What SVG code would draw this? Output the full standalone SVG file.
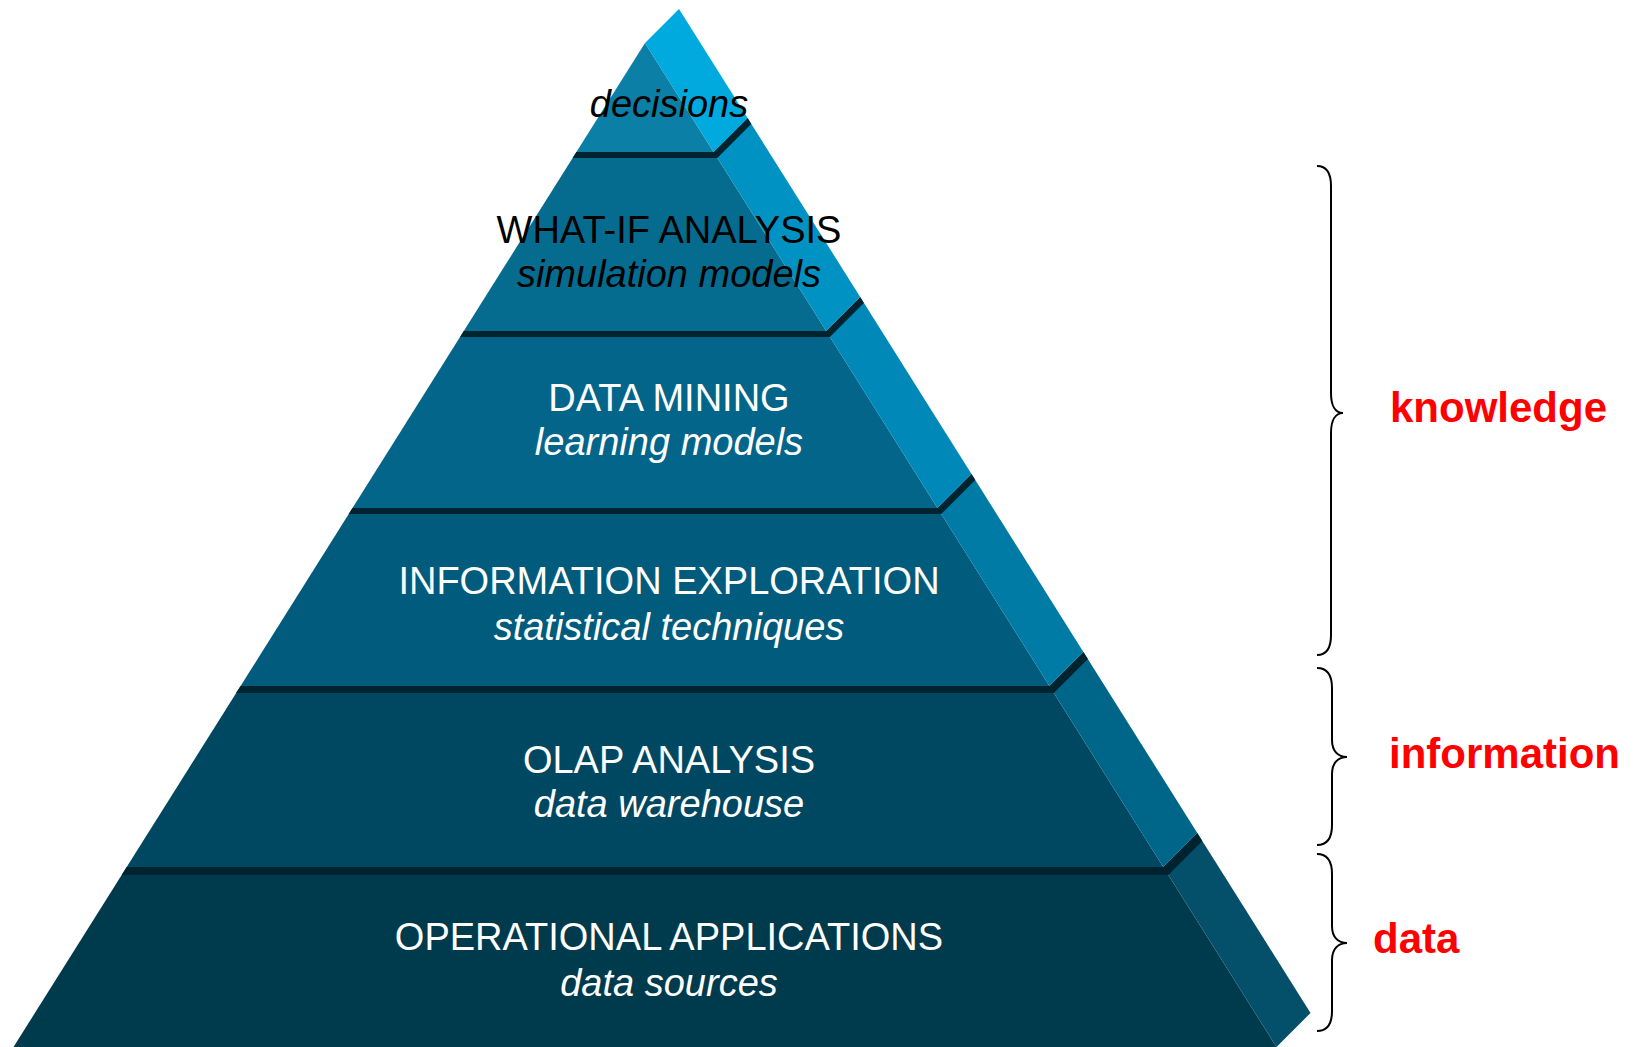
<svg xmlns="http://www.w3.org/2000/svg" width="1634" height="1047" viewBox="0 0 1634 1047">
<style>
.lbl{font-family:"Liberation Sans",Arial,sans-serif;font-size:38px;text-anchor:middle}
.it{font-style:italic}
.w{fill:#ffffff}
.k{fill:#000000}
.band{fill:#00242f}
.red{font-family:"Liberation Sans",Arial,sans-serif;font-size:42px;font-weight:bold;fill:#ff0000}
.brace{fill:none;stroke:#000;stroke-width:2}
</style>
<rect width="1634" height="1047" fill="#ffffff"/>
<g id="tier-operational">
<polygon points="126.7,867 1163.3,867 1276.5,1047 13.5,1047" fill="#003a4d"/>
<polygon points="1163.3,867 1197.3,833 1310.5,1013 1276.5,1047" fill="#044f69"/>
<polygon class="band" points="126.7,867 1163.3,867 1197.3,833 1202.3,841 1168.3,875 121.7,875"/>
<text class="lbl w" x="669" y="950">OPERATIONAL APPLICATIONS</text>
<text class="lbl w it" x="669" y="996">data sources</text>
</g>
<g id="tier-olap">
<polygon points="240.6,686 1049.4,686 1163.3,867 126.7,867" fill="#004862"/>
<polygon points="1049.4,686 1083.4,652 1197.3,833 1163.3,867" fill="#006689"/>
<polygon class="band" points="240.6,686 1049.4,686 1083.4,652 1087.9,659 1053.9,693 236.1,693"/>
<text class="lbl w" x="669" y="773">OLAP ANALYSIS</text>
<text class="lbl w it" x="669" y="817">data warehouse</text>
</g>
<g id="tier-exploration">
<polygon points="352.5,508 937.5,508 1049.4,686 240.6,686" fill="#015b7c"/>
<polygon points="937.5,508 971.5,474 1083.4,652 1049.4,686" fill="#007ba6"/>
<polygon class="band" points="352.5,508 937.5,508 971.5,474 975.3,480 941.3,514 348.7,514"/>
<text class="lbl w" x="669" y="594">INFORMATION EXPLORATION</text>
<text class="lbl w it" x="669" y="640">statistical techniques</text>
</g>
<g id="tier-mining">
<polygon points="463.8,331 826.2,331 937.5,508 352.5,508" fill="#04658a"/>
<polygon points="826.2,331 860.2,297 971.5,474 937.5,508" fill="#0088b9"/>
<polygon class="band" points="463.8,331 826.2,331 860.2,297 863.9,303 829.9,337 460.1,337"/>
<text class="lbl w" x="669" y="411">DATA MINING</text>
<text class="lbl w it" x="669" y="455">learning models</text>
</g>
<g id="tier-whatif">
<polygon points="576.4,152 713.6,152 826.2,331 463.8,331" fill="#056c8f"/>
<polygon points="713.6,152 747.6,118 860.2,297 826.2,331" fill="#0092c2"/>
<polygon class="band" points="576.4,152 713.6,152 747.6,118 751.3,124 717.3,158 572.7,158"/>
<text class="lbl k" x="669" y="243">WHAT-IF ANALYSIS</text>
<text class="lbl k it" x="669" y="287">simulation models</text>
</g>
<g id="tier-decisions">
<polygon points="645,43 713.6,152 576.4,152" fill="#0b7fa5"/>
<polygon points="645,43 679,9 747.6,118 713.6,152" fill="#00aadf"/>
<text class="lbl k it" x="669" y="117">decisions</text>
</g>
<g id="braces">
<path class="brace" d="M1317,166 C1326,166 1331,172 1331,186 L1331,393 C1331,405 1335,413 1343,413 C1335,413 1331,421 1331,433 L1331,635 C1331,649 1326,655 1317,655"/>
<path class="brace" d="M1317,668 C1326,668 1332,674 1332,688 L1332,740 C1332,751 1338,757 1347,757 C1338,757 1332,763 1332,774 L1332,825 C1332,839 1326,845 1317,845"/>
<path class="brace" d="M1317,854 C1326,854 1332,860 1332,874 L1332,926 C1332,937 1338,943 1347,943 C1338,943 1332,949 1332,960 L1332,1011 C1332,1025 1326,1031 1317,1031"/>
</g>
<g id="labels">
<text class="red" x="1390" y="422">knowledge</text>
<text class="red" x="1389" y="768">information</text>
<text class="red" x="1373" y="953">data</text>
</g>
</svg>
